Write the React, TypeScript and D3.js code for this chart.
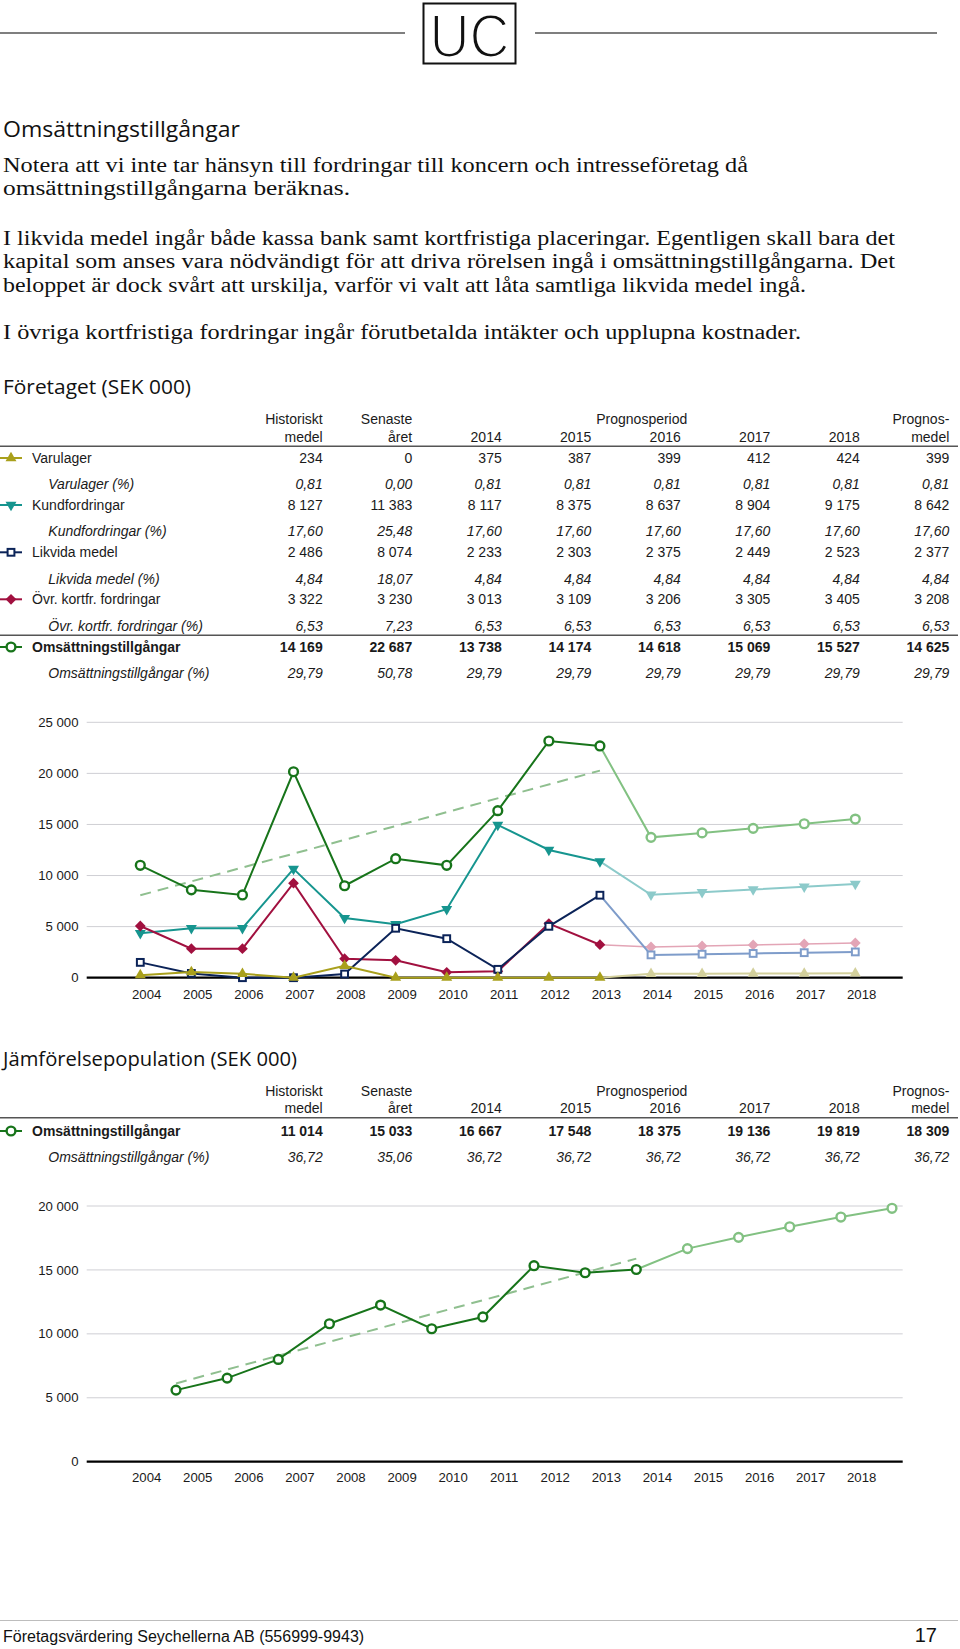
import React from "react";
import * as d3 from "d3";

// ---------- DATA ----------
const historyYears = [2004, 2005, 2006, 2007, 2008, 2009, 2010, 2011, 2012, 2013];
const forecastYears = [2014, 2015, 2016, 2017, 2018];
const axisYearLabels = ["2004", "2005", "2006", "2007", "2008", "2009", "2010", "2011", "2012", "2013", "2014", "2015", "2016", "2017", "2018"];

const varulagerHistory = [250, 550, 380, 0, 1160, 0, 0, 0, 0, 0];
const varulagerForecast = [375, 387, 399, 412, 424];
const kundHistory = [4350, 4840, 4840, 10650, 5840, 5230, 6700, 14950, 12500, 11383];
const kundForecast = [8117, 8375, 8637, 8904, 9175];
const likvidaHistory = [1500, 420, 0, 0, 360, 4840, 3820, 820, 5030, 8074];
const likvidaForecast = [2233, 2303, 2375, 2449, 2523];
const ovrHistory = [5060, 2840, 2840, 9250, 1860, 1700, 530, 640, 5300, 3230];
const ovrForecast = [3013, 3109, 3206, 3305, 3405];
const omsHistory = [11000, 8600, 8100, 20160, 9000, 11650, 11000, 16350, 23170, 22687];
const omsForecast = [13738, 14174, 14618, 15069, 15527];

const jamfHistory = [5600, 6540, 8000, 10790, 12250, 10400, 11320, 15330, 14780, 15033];
const jamfForecast = [16667, 17548, 18375, 19136, 19819];

const chart1Ticks = [0, 5000, 10000, 15000, 20000, 25000];
const chart2Ticks = [0, 5000, 10000, 15000, 20000];

// [Historiskt medel, Senaste året, Prognosmedel]
const varulagerSummary = [234, 0, 399];
const kundSummary = [8127, 11383, 8642];
const likvidaSummary = [2486, 8074, 2377];
const ovrSummary = [3322, 3230, 3208];
const omsSummary = [14169, 22687, 14625];
const jamfSummary = [11014, 15033, 18309];

const varulagerPct = [0.81, 0.0, 0.81, 0.81, 0.81, 0.81, 0.81, 0.81];
const kundPct = [17.6, 25.48, 17.6, 17.6, 17.6, 17.6, 17.6, 17.6];
const likvidaPct = [4.84, 18.07, 4.84, 4.84, 4.84, 4.84, 4.84, 4.84];
const ovrPct = [6.53, 7.23, 6.53, 6.53, 6.53, 6.53, 6.53, 6.53];
const omsPct = [29.79, 50.78, 29.79, 29.79, 29.79, 29.79, 29.79, 29.79];
const jamfPct = [36.72, 35.06, 36.72, 36.72, 36.72, 36.72, 36.72, 36.72];

const headerLine1 = ["Historiskt", "Senaste", "", "", "", "", "", "Prognos-"];
const headerLine2 = ["medel", "året", "2014", "2015", "2016", "2017", "2018", "medel"];
const headerSpan = "Prognosperiod";

const pageTitle = "Omsättningstillgångar";
const bodyLines = [
  "Notera att vi inte tar hänsyn till fordringar till koncern och intresseföretag då",
  "omsättningstillgångarna beräknas.",
  "I likvida medel ingår både kassa bank samt kortfristiga placeringar. Egentligen skall bara det",
  "kapital som anses vara nödvändigt för att driva rörelsen ingå i omsättningstillgångarna. Det",
  "beloppet är dock svårt att urskilja, varför vi valt att låta samtliga likvida medel ingå.",
  "I övriga kortfristiga fordringar ingår förutbetalda intäkter och upplupna kostnader.",
];
const section1Title = "Företaget (SEK 000)";
const section2Title = "Jämförelsepopulation (SEK 000)";
const footerText = "Företagsvärdering Seychellerna AB (556999-9943)";
const pageNumber = "17";
const logoText = "UC";

// ---------- HELPERS ----------
const locale = d3.formatLocale({ decimal: ",", thousands: "\u00a0", grouping: [3], currency: ["", ""] });
const fmtInt = locale.format(",d");
const fmtDec = locale.format(".2f");

const SANS = "'Liberation Sans', Arial, Helvetica, sans-serif";
const SERIF = "'Liberation Serif', 'Times New Roman', serif";
const HEAD = "'Open Sans', 'Noto Sans', sans-serif";

type MarkerType = "circle" | "square" | "diamond" | "triUp" | "triDown";

interface Series {
  name: string;
  history: number[];
  forecast: number[];
  dark: string;
  light: string;
  marker: MarkerType;
  lightWidth?: number;
}

function Marker({ type, x, y, color }: { type: MarkerType; x: number; y: number; color: string }) {
  if (type === "circle") {
    return <circle cx={x} cy={y} r={4.4} fill="#fff" stroke={color} strokeWidth={2.4} />;
  }
  if (type === "square") {
    return <rect x={x - 3.4} y={y - 3.4} width={6.8} height={6.8} fill="#fff" stroke={color} strokeWidth={2} />;
  }
  if (type === "diamond") {
    const d = d3.symbol().type(d3.symbolSquare).size(58)() as string;
    return <path d={d} transform={`translate(${x},${y}) rotate(45)`} fill={color} />;
  }
  const d = d3.symbol().type(d3.symbolTriangle).size(52)() as string;
  return <path d={d} transform={`translate(${x},${y}) rotate(${type === "triDown" ? 180 : 0})`} fill={color} />;
}

function linReg(xs: number[], ys: number[]) {
  const mx = d3.mean(xs) as number;
  const my = d3.mean(ys) as number;
  const sxy = d3.sum(xs.map((x, i) => (x - mx) * (ys[i] - my)));
  const sxx = d3.sum(xs.map((x) => (x - mx) * (x - mx)));
  const slope = sxy / sxx;
  return (x: number) => my + slope * (x - mx);
}

const PLOT_L = 86.7;
const PLOT_R = 902.7;

function Chart({
  series,
  trendValues,
  yScale,
  ticks,
  xPoint,
  labelX,
  labelBaseline,
  trendColor,
}: {
  series: Series[];
  trendValues: number[];
  yScale: d3.ScaleLinear<number, number>;
  ticks: number[];
  xPoint: d3.ScaleLinear<number, number>;
  labelX: d3.ScaleLinear<number, number>;
  labelBaseline: number;
  trendColor: string;
}) {
  const line = d3
    .line<[number, number]>()
    .x((d) => xPoint(d[0]))
    .y((d) => yScale(d[1]));
  const reg = linReg(historyYears, trendValues);
  const y0 = historyYears[0];
  const y1 = historyYears[historyYears.length - 1];
  const lastHist = historyYears.length - 1;
  return (
    <g>
      {ticks.map((t) => (
        <g key={t}>
          {t !== 0 && <line x1={PLOT_L} x2={PLOT_R} y1={yScale(t)} y2={yScale(t)} stroke="#cfcfd4" strokeWidth={1} />}
          <text x={78.5} y={yScale(t) + 4.6} textAnchor="end" fontFamily={SANS} fontSize={13.2} fill="#1a1a1a">
            {fmtInt(t)}
          </text>
        </g>
      ))}
      <line x1={PLOT_L} x2={PLOT_R} y1={yScale(0)} y2={yScale(0)} stroke="#000" strokeWidth={2.2} />
      <path
        d={line([
          [y0, reg(y0)],
          [y1, reg(y1)],
        ]) as string}
        fill="none"
        stroke={trendColor}
        strokeWidth={2}
        strokeDasharray="11 7"
      />
      {series.map((s) => {
        const hist: [number, number][] = historyYears.map((yr, i) => [yr, s.history[i]]);
        const fc: [number, number][] = [[historyYears[lastHist], s.history[lastHist]], ...forecastYears.map((yr, i) => [yr, s.forecast[i]] as [number, number])];
        return (
          <g key={s.name}>
            <path d={line(fc) as string} fill="none" stroke={s.light} strokeWidth={s.lightWidth ?? 2} />
            <path d={line(hist) as string} fill="none" stroke={s.dark} strokeWidth={2} />
            {hist.map((d) => (
              <Marker key={"h" + d[0]} type={s.marker} x={xPoint(d[0])} y={yScale(d[1])} color={s.dark} />
            ))}
            {fc.slice(1).map((d) => (
              <Marker key={"f" + d[0]} type={s.marker} x={xPoint(d[0])} y={yScale(d[1])} color={s.light} />
            ))}
          </g>
        );
      })}
      {axisYearLabels.map((l) => (
        <text key={l} x={labelX(+l)} y={labelBaseline} textAnchor="middle" fontFamily={SANS} fontSize={13.2} fill="#1a1a1a">
          {l}
        </text>
      ))}
    </g>
  );
}

const colRight = d3.scalePoint<number>().domain([0, 1, 2, 3, 4, 5, 6, 7]).range([322.7, 949.3]);

function TableHeader({ base }: { base: number }) {
  return (
    <g fontFamily={SANS} fontSize={14} fill="#1a1a1a">
      {headerLine1.map((h, i) =>
        h ? (
          <text key={"a" + i} x={colRight(i)} y={base} textAnchor="end">
            {h}
          </text>
        ) : null
      )}
      <text x={687.3} y={base} textAnchor="end">
        {headerSpan}
      </text>
      {headerLine2.map((h, i) => (
        <text key={"b" + i} x={colRight(i)} y={base + 17.7} textAnchor="end">
          {h}
        </text>
      ))}
      <line x1={0} x2={958} y1={base + 22.3} y2={base + 22.3} stroke="#555" strokeWidth={1.4} />
    </g>
  );
}

function TableRow({
  base,
  label,
  values,
  pctLabel,
  pct,
  bold,
  marker,
  color,
}: {
  base: number;
  label: string;
  values: number[];
  pctLabel: string;
  pct: number[];
  bold?: boolean;
  marker: MarkerType;
  color: string;
}) {
  const iy = base - 5;
  return (
    <g fontFamily={SANS} fontSize={14} fill="#1a1a1a">
      <line x1={0} x2={22} y1={iy} y2={iy} stroke={color} strokeWidth={2} />
      <Marker type={marker} x={11} y={iy} color={color} />
      <text x={32} y={base} fontWeight={bold ? 700 : 400}>
        {label}
      </text>
      {values.map((v, i) => (
        <text key={i} x={colRight(i)} y={base} textAnchor="end" fontWeight={bold ? 700 : 400}>
          {fmtInt(v)}
        </text>
      ))}
      <text x={48.3} y={base + 26.3} fontStyle="italic">
        {pctLabel}
      </text>
      {pct.map((v, i) => (
        <text key={"p" + i} x={colRight(i)} y={base + 26.3} textAnchor="end" fontStyle="italic">
          {fmtDec(v)}
        </text>
      ))}
    </g>
  );
}

const rowValues = (summary: number[], forecast: number[]) => [summary[0], summary[1], ...forecast, summary[2]];

export default function App() {
  // drawing order: first drawn at the bottom
  const series1: Series[] = [
    { name: "Omsättningstillgångar", history: omsHistory, forecast: omsForecast, dark: "#17741a", light: "#82c182", marker: "circle" },
    { name: "Kundfordringar", history: kundHistory, forecast: kundForecast, dark: "#16958f", light: "#8ccaca", marker: "triDown" },
    { name: "Övr. kortfr. fordringar", history: ovrHistory, forecast: ovrForecast, dark: "#a1103f", light: "#e3a5b6", marker: "diamond", lightWidth: 1.5 },
    { name: "Likvida medel", history: likvidaHistory, forecast: likvidaForecast, dark: "#0b2358", light: "#7e9cca", marker: "square" },
    { name: "Varulager", history: varulagerHistory, forecast: varulagerForecast, dark: "#a9a01c", light: "#d3d09c", marker: "triUp" },
  ];
  const series2: Series[] = [
    { name: "Omsättningstillgångar", history: jamfHistory, forecast: jamfForecast, dark: "#17741a", light: "#82c182", marker: "circle" },
  ];

  const y1 = d3.scaleLinear().domain([0, 25000]).range([977.7, 722.3]);
  const y2 = d3.scaleLinear().domain([0, 20000]).range([1461.7, 1206]);
  const xPts1 = d3.scaleLinear().domain([2004, 2018]).range([140.3, 855.3]);
  const xLbl = d3.scaleLinear().domain([2004, 2018]).range([146.7, 861.7]);
  const xPts2 = d3.scaleLinear().domain([2004, 2018]).range([176, 892]);

  const bodyBase = [171.7, 195, 245, 268.3, 291.6, 339.3];
  const bodyLen = [745, 347, 892, 892, 803, 798];

  return (
    <svg width={960} height={1649} style={{ position: "absolute", left: 0, top: 0, background: "#fff" }} xmlns="http://www.w3.org/2000/svg">
      <rect x={0} y={0} width={960} height={1649} fill="#fff" />
      {/* header */}
      <line x1={0} x2={405} y1={33} y2={33} stroke="#555" strokeWidth={1.5} />
      <line x1={535} x2={937} y1={33} y2={33} stroke="#555" strokeWidth={1.5} />
      <rect x={423.5} y={3.5} width={92} height={60} fill="none" stroke="#111" strokeWidth={2} />
      <text
        x={469.5}
        y={57}
        textAnchor="middle"
        fontFamily={SANS}
        fontSize={62}
        textLength={80}
        lengthAdjust="spacingAndGlyphs"
        fill="#111"
        stroke="#fff"
        strokeWidth={2.2}
      >
        {logoText}
      </text>

      <text x={3} y={137.3} fontFamily={HEAD} fontSize={22} textLength={237} lengthAdjust="spacingAndGlyphs" fill="#111">
        {pageTitle}
      </text>
      {bodyLines.map((l, i) => (
        <text key={i} x={3} y={bodyBase[i]} fontFamily={SERIF} fontSize={20.5} textLength={bodyLen[i]} lengthAdjust="spacingAndGlyphs" fill="#111">
          {l}
        </text>
      ))}

      <text x={3} y={394.3} fontFamily={HEAD} fontSize={19.5} textLength={188} lengthAdjust="spacingAndGlyphs" fill="#111">
        {section1Title}
      </text>
      <TableHeader base={424} />
      <TableRow base={463} label="Varulager" values={rowValues(varulagerSummary, varulagerForecast)} pctLabel="Varulager (%)" pct={varulagerPct} marker="triUp" color="#a9a01c" />
      <TableRow base={510} label="Kundfordringar" values={rowValues(kundSummary, kundForecast)} pctLabel="Kundfordringar (%)" pct={kundPct} marker="triDown" color="#16958f" />
      <TableRow base={557.3} label="Likvida medel" values={rowValues(likvidaSummary, likvidaForecast)} pctLabel="Likvida medel (%)" pct={likvidaPct} marker="square" color="#0b2358" />
      <TableRow base={604.3} label="Övr. kortfr. fordringar" values={rowValues(ovrSummary, ovrForecast)} pctLabel="Övr. kortfr. fordringar (%)" pct={ovrPct} marker="diamond" color="#a1103f" />
      <line x1={0} x2={958} y1={635.3} y2={635.3} stroke="#555" strokeWidth={1.4} />
      <TableRow base={652} label="Omsättningstillgångar" values={rowValues(omsSummary, omsForecast)} pctLabel="Omsättningstillgångar (%)" pct={omsPct} marker="circle" color="#17741a" bold />

      <Chart series={series1} trendValues={omsHistory} yScale={y1} ticks={chart1Ticks} xPoint={xPts1} labelX={xLbl} labelBaseline={998.5} trendColor="#8fbf8f" />

      <text x={3} y={1066} fontFamily={HEAD} fontSize={19.5} textLength={294} lengthAdjust="spacingAndGlyphs" fill="#111">
        {section2Title}
      </text>
      <TableHeader base={1095.5} />
      <TableRow base={1136} label="Omsättningstillgångar" values={rowValues(jamfSummary, jamfForecast)} pctLabel="Omsättningstillgångar (%)" pct={jamfPct} marker="circle" color="#17741a" bold />

      <Chart series={series2} trendValues={jamfHistory} yScale={y2} ticks={chart2Ticks} xPoint={xPts2} labelX={xLbl} labelBaseline={1482.3} trendColor="#8fbf8f" />

      {/* footer */}
      <line x1={0} x2={958} y1={1620.5} y2={1620.5} stroke="#bdbdbd" strokeWidth={1} />
      <text x={3} y={1641.5} fontFamily={SANS} fontSize={16} fill="#111">
        {footerText}
      </text>
      <text x={937} y={1642} textAnchor="end" fontFamily={SANS} fontSize={20} fill="#111">
        {pageNumber}
      </text>
    </svg>
  );
}
